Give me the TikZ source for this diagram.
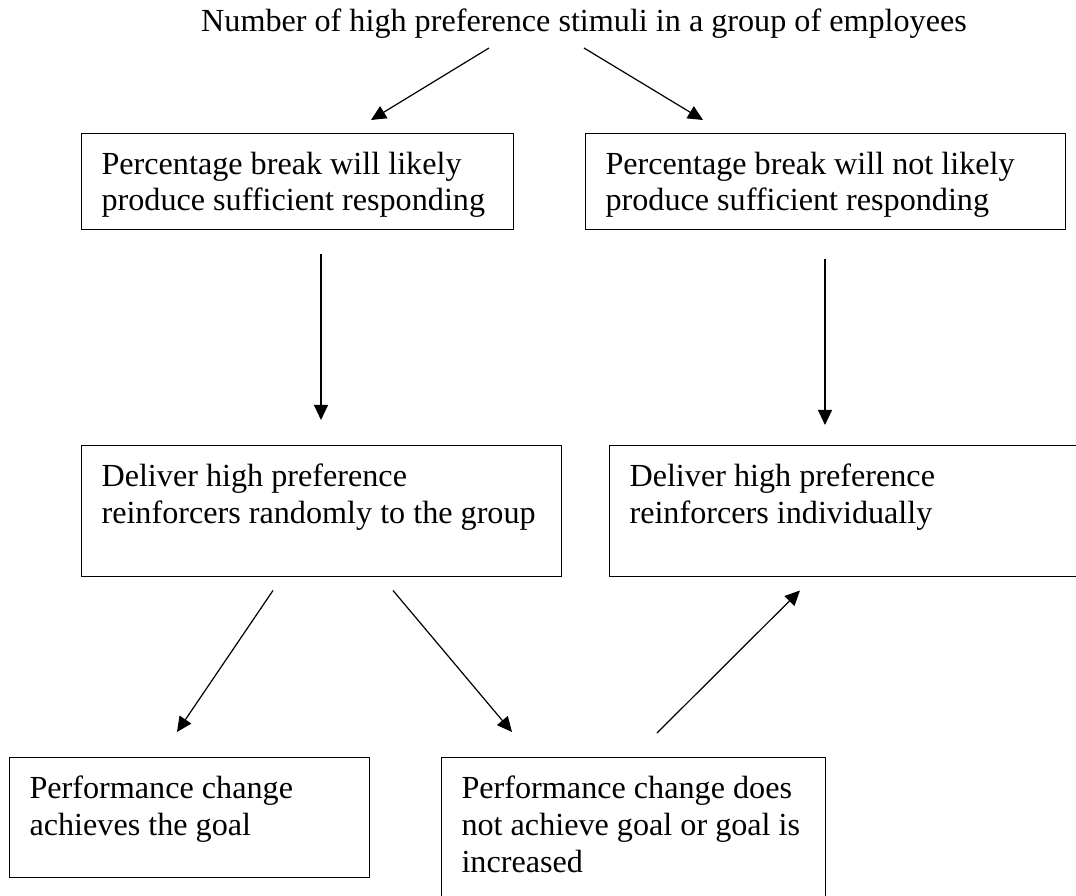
\documentclass[tikz,border=0pt]{standalone}
\usepackage{fontspec}
\setmainfont{Liberation Serif}
\usetikzlibrary{calc,arrows.meta}
\newcommand\pxu{0.373pt}
\begin{document}
\begin{tikzpicture}[x=0.373pt,y=-0.373pt,
    box/.style={draw,line width=0.55pt,anchor=north west,inner sep=0pt},
    txt/.style={anchor=base west,inner sep=0pt,align=flush left,text width=180pt,font=\fontsize{12}{13.8}\selectfont},
    arr/.style={line width=0.45pt,-{Triangle[length=5.6pt,width=5.2pt]}}]
  \useasboundingbox (0,0) rectangle (1076,896);

  % top line of text
  \node[anchor=base,inner sep=0pt,font=\fontsize{12}{13.8}\selectfont] (title) at (584,31)
    {Number of high preference stimuli in a group of employees};

  % boxes (frames)
  \node[box,minimum width=432*\pxu,minimum height=96*\pxu] (b1) at (81,133) {};
  \node[box,minimum width=480*\pxu,minimum height=96*\pxu] (b2) at (585,133) {};
  \node[box,minimum width=480*\pxu,minimum height=131*\pxu] (b3) at (81,445) {};
  \node[box,minimum width=475*\pxu,minimum height=131*\pxu] (b4) at (609,445) {}; % runs off the right edge
  \node[box,minimum width=360*\pxu,minimum height=120*\pxu] (b5) at (9,757) {};
  \node[box,minimum width=384*\pxu,minimum height=145*\pxu] (b6) at (441,757) {}; % runs off the bottom

  % texts in the boxes
  \node[txt] (t1) at ($(b1.north west)+(20,41)$) {Percentage break will likely\\produce sufficient responding};
  \node[txt] (t2) at ($(b2.north west)+(20,41)$) {Percentage break will not likely\\produce sufficient responding};
  \node[txt] (t3) at ($(b3.north west)+(20,41)$) {Deliver high preference\\reinforcers randomly to the group};
  \node[txt] (t4) at ($(b4.north west)+(20,41)$) {Deliver high preference\\reinforcers individually};
  \node[txt] (t5) at ($(b5.north west)+(20,41)$) {Performance change\\achieves the goal};
  \node[txt] (t6) at ($(b6.north west)+(20,41)$) {Performance change does\\not achieve goal or goal is\\increased};

  % arrows, all with a gap to the frames
  \draw[arr] ($(title.base)+(-95,17)$) -- ($(b1.north west)+(290,-13)$);
  \draw[arr] ($(title.base)+(0,17)$) -- ($(b2.north west)+(118,-13)$);
  \draw[arr] ($(b1.south west)+(240,24)$) -- ($(b3.north west)+(240,-25)$);
  \draw[arr] ($(b2.south west)+(240,29)$) -- ($(b4.north west)+(216,-20)$);
  \draw[arr] ($(b3.south west)+(192,13)$) -- ($(b5.north west)+(168,-25)$);
  \draw[arr] ($(b3.south west)+(312,13)$) -- ($(b6.north west)+(71,-25)$);
  \draw[arr] ($(b6.north west)+(216,-24)$) -- ($(b4.south west)+(191,13)$);
\end{tikzpicture}
\end{document}
